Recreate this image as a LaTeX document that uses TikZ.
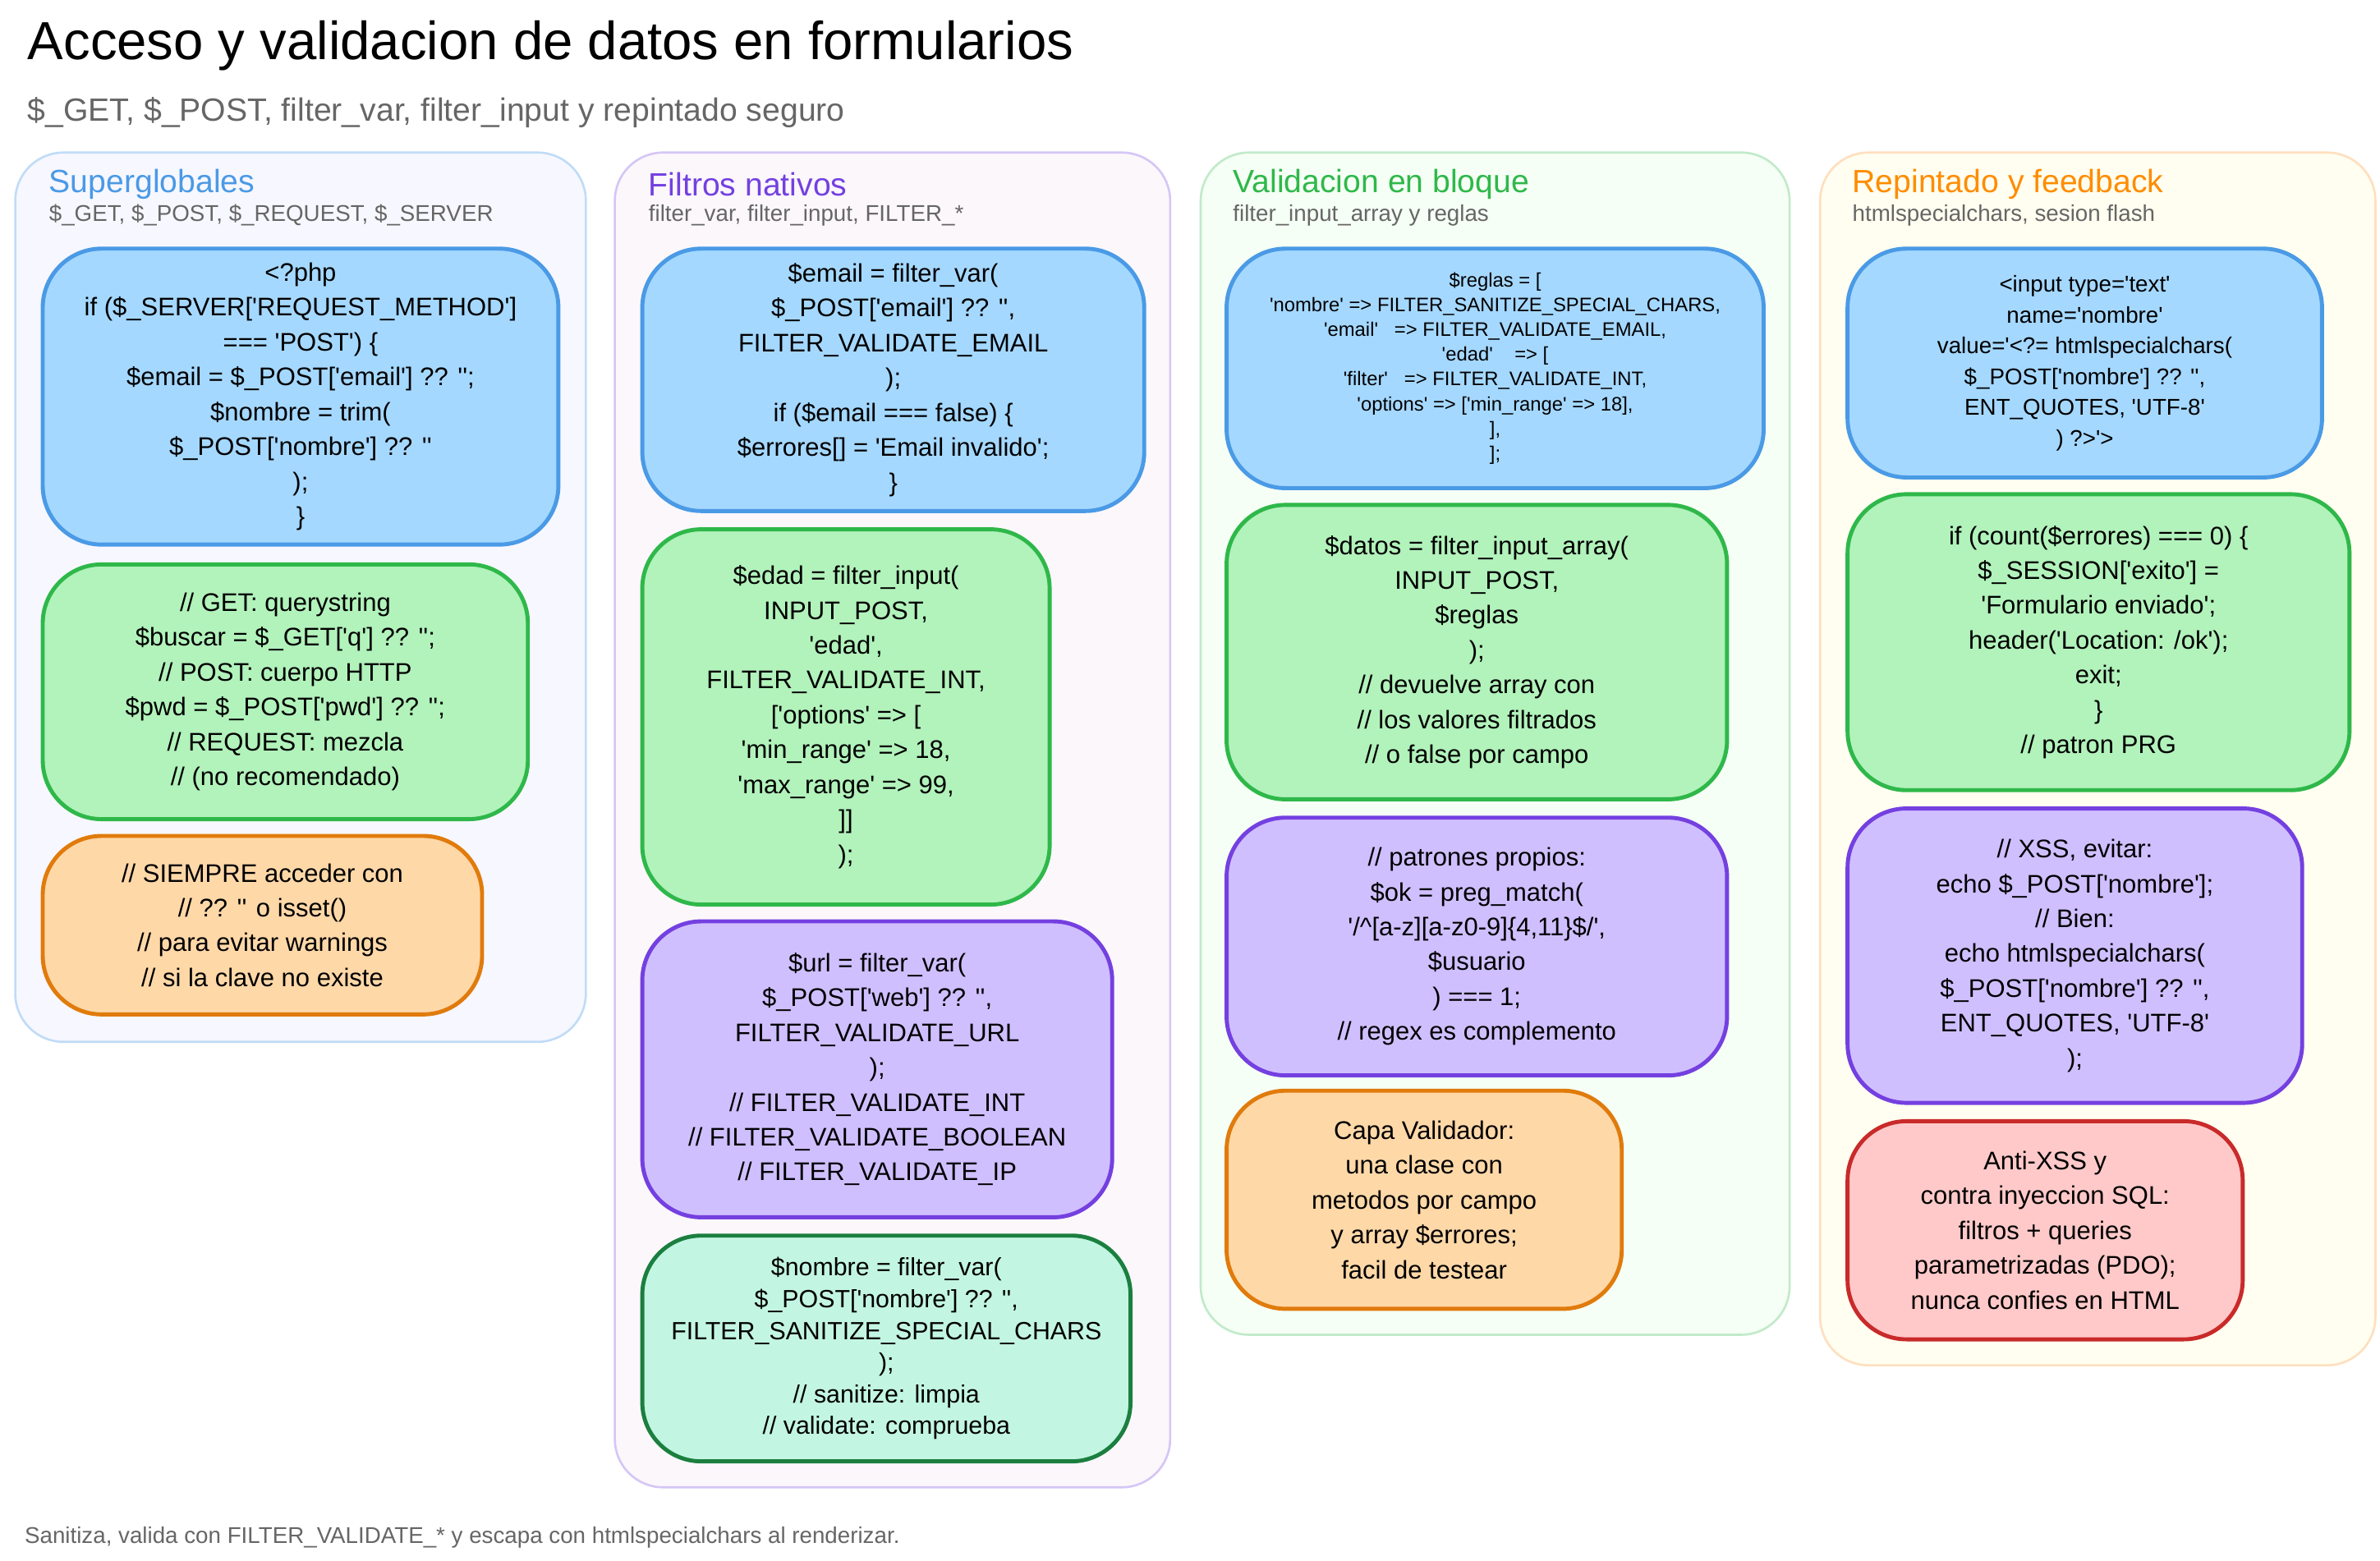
\documentclass[tikz,border=0pt]{standalone}
\usepackage{fontspec}
\newfontfamily\mf{Liberation Sans}
\usetikzlibrary{calc}
\definecolor{bF}{HTML}{A5D8FF}\definecolor{bD}{HTML}{4A9AE6}
\definecolor{gF}{HTML}{B2F2BB}\definecolor{gD}{HTML}{2FB84A}
\definecolor{oF}{HTML}{FFD8A8}\definecolor{oD}{HTML}{E07B0C}
\definecolor{pF}{HTML}{D0BFFF}\definecolor{pD}{HTML}{7440E0}
\definecolor{tF}{HTML}{C3F5E3}\definecolor{tD}{HTML}{1B7F3F}
\definecolor{rF}{HTML}{FFC9C9}\definecolor{rD}{HTML}{C92A2A}
\tikzset{
 panel/.style={rounded corners=18, line width=0.8pt},
 box/.style={rounded corners=22, line width=1.5pt},
 code/.style={align=center, font=\mf\fontsize{9.5}{13}\selectfont, text=black},
 small/.style={font=\mf\fontsize{8.5}{11.5}\selectfont},
 smallb/.style={font=\mf\fontsize{9.3}{11.8}\selectfont},
 tiny/.style={font=\mf\fontsize{7.3}{9.2}\selectfont},
 htitle/.style={anchor=west, font=\mf\fontsize{12}{14}\selectfont},
 hsub/.style={anchor=west, font=\mf\fontsize{8.5}{10}\selectfont, text=black!60},
}
\newcommand{\bx}[8]{\draw[box,#2] (#3,#4) rectangle (#5,#6);
 \node[code,#8] (#1) at ({(#3+#5)/2},{(#4+#6)/2}) {#7};}
\begin{document}
\mf
\begin{tikzpicture}[x=0.02cm,y=-0.02cm]
\useasboundingbox[fill=white] (0,0) rectangle (1560,1023.3);
\node[anchor=west,font=\mf\fontsize{20}{24}\selectfont] (title) at (12,30) {Acceso y validacion de datos en formularios};
\node[anchor=west,font=\mf\fontsize{12}{14}\selectfont,text=black!60] (sub) at (12,74) {\$\_GET, \$\_POST, filter\_var, filter\_input y repintado seguro};
\node[anchor=west,font=\mf\fontsize{8.5}{10}\selectfont,text=black!60] (foot) at (10,1008) {Sanitiza, valida con FILTER\_VALIDATE\_* y escapa con htmlspecialchars al renderizar.};
% panels
\draw[panel,fill=blue!3,draw=bD!35] (10,100) rectangle (384,683);
\draw[panel,fill=violet!3,draw=pD!30] (403,100) rectangle (767,975);
\draw[panel,fill=green!4,draw=gD!30] (787,100) rectangle (1173,875);
\draw[panel,fill=yellow!6,draw=orange!25] (1193,100) rectangle (1557,895);
\node[htitle,text=bD] (h1) at (26,121) {Superglobales};
\node[hsub] (s1) at (26,141) {\$\_GET, \$\_POST, \$\_REQUEST, \$\_SERVER};
\node[htitle,text=pD] (h2) at (419,121) {Filtros nativos};
\node[hsub] (s2) at (419,141) {filter\_var, filter\_input, FILTER\_*};
\node[htitle,text=gD] (h3) at (802,121) {Validacion en bloque};
\node[hsub] (s3) at (802,141) {filter\_input\_array y reglas};
\node[htitle,text=orange!90!yellow] (h4) at (1208,121) {Repintado y feedback};
\node[hsub] (s4) at (1208,141) {htmlspecialchars, sesion flash};
% column 1
\bx{a1}{fill=bF,draw=bD}{28}{163}{366}{357}{<?php\\if (\$\_SERVER['REQUEST\_METHOD']\\=== 'POST') \{\\\$email = \$\_POST['email'] ?? '';\\\$nombre = trim(\\\$\_POST['nombre'] ?? ''\\);\\\}}{}
\bx{a2}{fill=gF,draw=gD}{28}{370}{346}{537}{// GET: querystring\\\$buscar = \$\_GET['q'] ?? '';\\// POST: cuerpo HTTP\\\$pwd = \$\_POST['pwd'] ?? '';\\// REQUEST: mezcla\\// (no recomendado)}{}
\bx{a3}{fill=oF,draw=oD}{28}{548}{316}{665}{// SIEMPRE acceder con\\// ?? '' o isset()\\// para evitar warnings\\// si la clave no existe}{}
% column 2
\bx{b1}{fill=bF,draw=bD}{421}{163}{750}{335}{\$email = filter\_var(\\\$\_POST['email'] ?? '',\\FILTER\_VALIDATE\_EMAIL\\);\\if (\$email === false) \{\\\$errores[] = 'Email invalido';\\\}}{}
\bx{b2}{fill=gF,draw=gD}{421}{347}{688}{593}{\$edad = filter\_input(\\INPUT\_POST,\\'edad',\\FILTER\_VALIDATE\_INT,\\\lbrack'options' => [\\'min\_range' => 18,\\'max\_range' => 99,\\\rbrack\rbrack\\);}{}
\bx{b3}{fill=pF,draw=pD}{421}{604}{729}{798}{\$url = filter\_var(\\\$\_POST['web'] ?? '',\\FILTER\_VALIDATE\_URL\\);\\// FILTER\_VALIDATE\_INT\\// FILTER\_VALIDATE\_BOOLEAN\\// FILTER\_VALIDATE\_IP}{}
\bx{b4}{fill=tF,draw=tD}{421}{810}{741}{958}{\$nombre = filter\_var(\\\$\_POST['nombre'] ?? '',\\FILTER\_SANITIZE\_SPECIAL\_CHARS\\);\\// sanitize: limpia\\// validate: comprueba}{smallb}
% column 3
\bx{c1}{fill=bF,draw=bD}{804}{163}{1156}{320}{\$reglas = [\\'nombre' => FILTER\_SANITIZE\_SPECIAL\_CHARS,\\'email'\ \ \ => FILTER\_VALIDATE\_EMAIL,\\'edad'\ \ \ \ => [\\'filter'\ \ \ => FILTER\_VALIDATE\_INT,\\'options' => ['min\_range' => 18],\\],\\];}{tiny}
\bx{c2}{fill=gF,draw=gD}{804}{331}{1132}{524}{\$datos = filter\_input\_array(\\INPUT\_POST,\\\$reglas\\);\\// devuelve array con\\// los valores filtrados\\// o false por campo}{}
\bx{c3}{fill=pF,draw=pD}{804}{536}{1132}{705}{// patrones propios:\\\$ok = preg\_match(\\'/\textasciicircum[a-z][a-z0-9]\{4,11\}\$/',\\\$usuario\\) === 1;\\// regex es complemento}{}
\bx{c4}{fill=oF,draw=oD}{804}{715}{1063}{858}{Capa Validador:\\una clase con\\metodos por campo\\y array \$errores;\\facil de testear}{}
% column 4
\bx{d1}{fill=bF,draw=bD}{1211}{163}{1522}{313}{<input type='text'\\name='nombre'\\value='<?= htmlspecialchars(\\\$\_POST['nombre'] ?? '',\\ENT\_QUOTES, 'UTF-8'\\) ?>'>}{small}
\bx{d2}{fill=gF,draw=gD}{1211}{324}{1540}{518}{if (count(\$errores) === 0) \{\\\$\_SESSION['exito'] =\\'Formulario enviado';\\header('Location: /ok');\\exit;\\\}\\// patron PRG}{}
\bx{d3}{fill=pF,draw=pD}{1211}{530}{1509}{723}{// XSS, evitar:\\echo \$\_POST['nombre'];\\// Bien:\\echo htmlspecialchars(\\\$\_POST['nombre'] ?? '',\\ENT\_QUOTES, 'UTF-8'\\);}{}
\bx{d4}{fill=rF,draw=rD}{1211}{735}{1470}{878}{Anti-XSS y\\contra inyeccion SQL:\\filtros + queries\\parametrizadas (PDO);\\nunca confies en HTML}{}
\end{tikzpicture}
\end{document}
